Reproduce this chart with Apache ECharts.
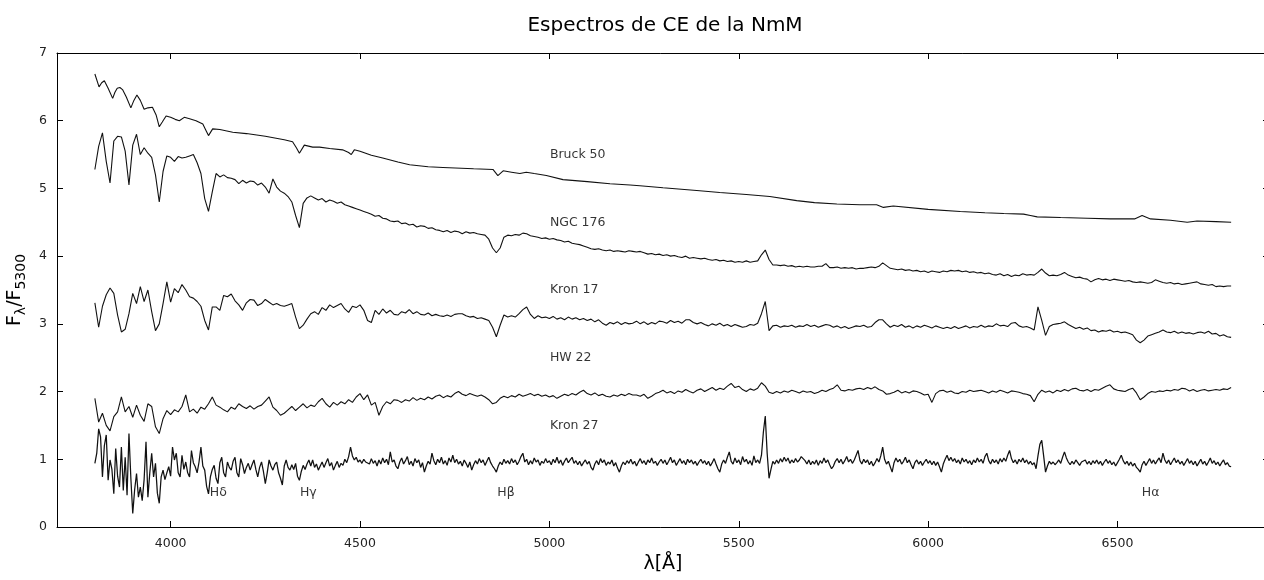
<!DOCTYPE html>
<html><head><meta charset="utf-8">
<script src="https://cdn.jsdelivr.net/npm/echarts@6/dist/echarts.min.js"></script>
<style>html,body{margin:0;padding:0;background:#fff;overflow:hidden}#c{width:1264px;height:580px}</style>
</head><body><div id="c"></div>
<script>
// ---------- DATA ----------
const chartTitle = 'Espectros de CE de la NmM';
const xAxisName = 'λ[Å]';
const xTicks = [4000, 4500, 5000, 5500, 6000, 6500];
const yTicks = [0, 1, 2, 3, 4, 5, 6, 7];
const seriesNames = ['Bruck 50', 'NGC 176', 'Kron 17', 'HW 22', 'Kron 27'];
const nameLabelX = 5000;
const nameLabelY = [5.5, 4.5, 3.5, 2.5, 1.5];
const lineNames = ['Hδ', 'Hγ', 'Hβ', 'Hα'];
const lineLambda = [4102, 4340, 4861, 6563];
const lineLabelY = 0.5;

// Bruck 50: [wavelength, flux] pairs (smooth spectrum)
const bruck50 = [
[3800,6.69],[3811,6.50],[3818,6.56],[3825,6.59],[3835,6.48],[3847,6.33],[3853,6.42],[3859,6.48],[3866,6.49],[3873,6.46],
[3883,6.35],[3895,6.19],[3903,6.30],[3911,6.38],[3920,6.30],[3930,6.17],[3940,6.19],[3952,6.20],[3962,6.08],[3970,5.91],
[3978,5.98],[3988,6.07],[4000,6.05],[4012,6.02],[4023,6.00],[4036,6.05],[4050,6.03],[4067,6.00],[4085,5.95],[4093,5.86],
[4100,5.78],[4111,5.88],[4130,5.87],[4164,5.83],[4200,5.81],[4250,5.77],[4300,5.72],[4322,5.69],[4332,5.60],[4340,5.52],
[4353,5.64],[4375,5.61],[4393,5.61],[4420,5.59],[4454,5.57],[4470,5.53],[4477,5.50],[4485,5.57],[4500,5.55],[4530,5.49],
[4560,5.45],[4600,5.39],[4631,5.35],[4680,5.32],[4719,5.31],[4800,5.29],[4851,5.28],[4864,5.19],[4878,5.26],[4900,5.24],
[4922,5.22],[4927,5.20],[4939,5.24],[4960,5.22],[4992,5.19],[5036,5.13],[5100,5.10],[5160,5.07],[5213,5.05],[5239,5.04],
[5300,5.01],[5389,4.97],[5450,4.94],[5520,4.91],[5582,4.88],[5653,4.82],[5700,4.79],[5759,4.77],[5820,4.76],[5864,4.76],
[5882,4.72],[5908,4.74],[6000,4.69],[6085,4.66],[6150,4.64],[6200,4.63],[6252,4.62],[6270,4.60],[6288,4.58],[6350,4.57],
[6420,4.56],[6481,4.55],[6545,4.55],[6565,4.60],[6587,4.55],[6640,4.53],[6684,4.50],[6710,4.52],[6760,4.51],[6800,4.50]
];

// Rows of 100 Å starting at 3800 Å, 10 Å sampling
const ngc176Rows = [
[5.28,5.62,5.82,5.40,5.08,5.70,5.77,5.76,5.55,5.05],
[5.64,5.80,5.50,5.60,5.52,5.46,5.20,4.80,5.25,5.48],
[5.46,5.40,5.47,5.45,5.46,5.48,5.50,5.38,5.22,4.85],
[4.66,4.95,5.22,5.17,5.20,5.16,5.15,5.13,5.07,5.12],
[5.08,5.11,5.10,5.05,5.08,5.02,4.93,5.14,5.02,4.96],
[4.93,4.88,4.80,4.60,4.42,4.78,4.86,4.89,4.86,4.83],
[4.85,4.80,4.83,4.81,4.78,4.80,4.76,4.74,4.72,4.70],
[4.68,4.66,4.64,4.62,4.59,4.60,4.56,4.55,4.52,4.51],
[4.52,4.48,4.49,4.46,4.47,4.43,4.45,4.44,4.41,4.42],
[4.39,4.38,4.36,4.38,4.35,4.37,4.36,4.33,4.36,4.34],
[4.35,4.33,4.32,4.31,4.25,4.12,4.05,4.12,4.28,4.31],
[4.30,4.32,4.31,4.34,4.33,4.30,4.29,4.28,4.26,4.27],
[4.25,4.26,4.24,4.23,4.21,4.22,4.19,4.18,4.17,4.15],
[4.13,4.11,4.10,4.11,4.09,4.08,4.09,4.07,4.08,4.07],
[4.06,4.08,4.07,4.06,4.07,4.05,4.03,4.04,4.02,4.03],
[4.01,4.02,4.00,4.01,3.99,3.98,4.00,3.97,3.98,3.97],
[3.96,3.97,3.95,3.94,3.95,3.93,3.94,3.92,3.93,3.91],
[3.92,3.91,3.93,3.91,3.92,3.93,4.02,4.09,3.95,3.87],
[3.87,3.86,3.87,3.85,3.86,3.84,3.85,3.84,3.85,3.84],
[3.84,3.85,3.85,3.89,3.83,3.83,3.84,3.82,3.83,3.82],
[3.83,3.81,3.82,3.82,3.83,3.84,3.83,3.85,3.90,3.86],
[3.82,3.81,3.80,3.81,3.79,3.80,3.78,3.79,3.77,3.78],
[3.76,3.78,3.77,3.76,3.78,3.77,3.79,3.78,3.79,3.77],
[3.78,3.76,3.77,3.75,3.76,3.74,3.75,3.73,3.72,3.74],
[3.71,3.73,3.70,3.72,3.71,3.74,3.72,3.73,3.72,3.76],
[3.81,3.75,3.71,3.72,3.71,3.73,3.76,3.72,3.70,3.68],
[3.69,3.67,3.66,3.62,3.65,3.67,3.65,3.66,3.64,3.66],
[3.65,3.64,3.63,3.64,3.62,3.61,3.62,3.61,3.60,3.61],
[3.65,3.63,3.61,3.60,3.61,3.59,3.60,3.58,3.59,3.60],
[3.61,3.62,3.59,3.58,3.57,3.58,3.55,3.56,3.55,3.56],
[3.56]
];

const kron17Rows = [
[3.31,2.95,3.26,3.43,3.53,3.45,3.13,2.88,2.92,3.15],
[3.45,3.30,3.55,3.33,3.50,3.18,2.90,3.00,3.30,3.62],
[3.32,3.52,3.46,3.58,3.50,3.40,3.38,3.33,3.26,3.05],
[2.91,3.25,3.25,3.20,3.42,3.40,3.44,3.34,3.28,3.20],
[3.31,3.36,3.35,3.27,3.30,3.36,3.32,3.28,3.30,3.27],
[3.26,3.28,3.30,3.10,2.93,2.98,3.07,3.15,3.18,3.14],
[3.24,3.20,3.28,3.24,3.27,3.30,3.22,3.17,3.26,3.24],
[3.28,3.20,3.05,3.02,3.20,3.14,3.22,3.16,3.20,3.14],
[3.13,3.18,3.16,3.21,3.15,3.18,3.14,3.13,3.16,3.12],
[3.14,3.12,3.11,3.13,3.11,3.14,3.15,3.15,3.12,3.10],
[3.11,3.08,3.09,3.07,3.05,2.95,2.81,2.98,3.13,3.10],
[3.12,3.10,3.15,3.21,3.25,3.14,3.08,3.12,3.09,3.10],
[3.08,3.11,3.07,3.09,3.06,3.10,3.07,3.09,3.06,3.08],
[3.05,3.07,3.03,3.06,3.01,2.98,3.02,3.00,3.03,2.99],
[3.02,3.00,3.01,3.04,3.00,3.03,2.99,3.02,3.00,3.04],
[3.03,3.01,3.05,3.02,3.04,3.01,3.06,3.06,3.02,3.00],
[3.02,2.99,2.97,3.00,2.98,3.01,2.97,2.99,2.96,2.99],
[2.97,2.95,2.96,2.99,2.98,3.01,3.15,3.33,2.90,2.97],
[2.98,2.95,2.97,2.96,2.98,2.95,2.97,2.96,2.99,2.96],
[2.98,2.95,2.97,2.99,2.98,2.95,2.97,2.94,2.96,2.93],
[2.95,2.97,2.96,2.98,2.95,2.96,3.02,3.06,3.06,3.00],
[2.95,2.98,2.96,2.99,2.95,2.97,2.94,2.97,2.95,2.98],
[2.96,2.94,2.97,2.95,2.93,2.95,2.93,2.96,2.93,2.95],
[2.97,2.94,2.96,2.95,2.98,2.95,2.97,2.96,3.00,2.97],
[2.98,2.96,3.01,3.02,2.97,2.95,2.96,2.94,2.91,3.25],
[3.05,2.83,2.96,2.99,3.00,3.01,3.03,2.99,2.96,2.93],
[2.95,2.92,2.94,2.90,2.91,2.88,2.90,2.89,2.91,2.88],
[2.89,2.87,2.88,2.86,2.84,2.76,2.72,2.76,2.82,2.84],
[2.86,2.88,2.91,2.88,2.87,2.89,2.86,2.88,2.86,2.87],
[2.85,2.87,2.88,2.86,2.89,2.85,2.86,2.82,2.84,2.81],
[2.80]
];

const hw22Rows = [
[1.90,1.55,1.68,1.50,1.42,1.63,1.70,1.92,1.70,1.78],
[1.62,1.80,1.65,1.56,1.82,1.78,1.48,1.38,1.60,1.72],
[1.66,1.73,1.70,1.78,1.95,1.70,1.74,1.68,1.77,1.74],
[1.82,1.92,1.80,1.77,1.73,1.70,1.77,1.74,1.82,1.78],
[1.75,1.79,1.74,1.78,1.80,1.86,1.92,1.77,1.72,1.65],
[1.68,1.73,1.78,1.72,1.77,1.82,1.76,1.80,1.78,1.85],
[1.90,1.82,1.77,1.84,1.80,1.85,1.82,1.88,1.84,1.92],
[1.97,1.88,1.95,1.80,1.84,1.65,1.78,1.85,1.82,1.88],
[1.87,1.84,1.88,1.86,1.91,1.87,1.90,1.88,1.92,1.89],
[1.93,1.95,1.91,1.94,1.92,1.97,2.00,1.96,1.94,1.97],
[1.95,1.93,1.95,1.92,1.88,1.82,1.84,1.90,1.93,1.91],
[1.94,1.92,1.96,1.93,1.95,1.97,1.94,1.96,1.93,1.95],
[1.92,1.94,1.90,1.93,1.96,1.94,1.97,1.95,1.99,2.02],
[1.97,1.95,1.98,1.94,1.96,1.93,1.92,1.95,1.93,1.96],
[1.94,1.97,1.95,1.95,1.93,1.96,1.90,1.93,1.97,1.99],
[2.02,1.98,2.00,1.97,2.01,1.99,2.03,2.00,1.98,2.02],
[2.04,2.00,2.03,2.06,2.02,2.05,2.03,2.08,2.12,2.06],
[2.08,2.03,2.00,2.04,2.02,2.05,2.13,2.08,1.99,1.97],
[2.00,1.98,2.01,1.99,2.02,2.00,1.98,2.01,1.99,2.00],
[1.97,1.99,2.02,2.00,2.03,2.05,2.10,2.02,2.01,2.03],
[2.02,2.04,2.05,2.03,2.06,2.04,2.07,2.03,2.01,1.96],
[1.97,1.99,2.02,1.98,2.00,1.98,2.01,2.00,1.98,1.95],
[1.96,1.84,1.97,2.01,2.02,1.99,2.01,1.98,1.97,2.00],
[1.99,2.02,2.00,2.01,2.02,2.00,1.98,2.01,1.99,2.02],
[2.00,1.98,2.01,2.00,1.99,1.97,1.96,1.94,1.85,1.96],
[2.02,1.99,2.01,1.98,2.02,2.00,2.03,2.01,2.04,2.05],
[2.02,2.01,2.03,2.00,2.03,2.02,2.05,2.08,2.10,2.04],
[2.02,2.01,2.00,2.03,2.05,1.98,1.88,1.92,1.97,2.00],
[1.99,2.01,2.00,2.02,2.01,2.03,2.02,2.05,2.04,2.01],
[2.03,2.00,2.02,2.03,2.01,2.02,2.03,2.02,2.04,2.03],
[2.06]
];

// Rows of 100 Å starting at 3800 Å, 5 Å sampling
const kron27Rows = [
[0.94,1.09,1.45,1.33,0.74,1.20,1.36,0.69,0.99,0.85,0.49,1.16,0.75,0.59,1.18,0.54,1.03,0.47,1.38,0.72],
[0.20,0.55,0.79,0.44,0.59,0.39,0.70,1.26,0.44,0.80,1.09,0.74,0.94,0.50,0.35,0.74,0.84,0.70,0.80,0.89],
[0.75,1.18,0.99,1.09,0.80,0.74,1.06,0.85,0.96,0.80,0.74,1.13,0.95,0.89,0.80,0.96,1.18,0.90,0.84,0.60],
[0.49,0.74,0.85,0.91,0.72,0.64,0.95,1.03,0.80,0.74,0.96,0.88,0.84,0.97,1.03,0.80,0.74,1.01,0.92,0.79],
[0.88,0.94,0.84,0.92,0.99,0.85,0.74,0.88,0.96,0.82,0.64,0.80,0.99,0.90,0.84,0.92,0.96,0.80,0.72,0.62],
[0.90,0.99,0.88,0.84,0.92,0.85,0.94,0.75,0.69,0.82,0.91,0.85,0.93,0.99,0.90,0.99,0.88,0.93,0.84,0.90],
[0.96,0.88,0.95,1.01,0.90,0.95,0.84,0.91,0.97,0.88,0.94,0.91,1.00,0.95,1.04,1.18,1.05,0.99,1.03,0.96],
[0.99,0.94,1.00,0.96,0.98,0.93,1.01,0.94,0.98,0.90,0.99,0.93,1.02,0.95,1.00,0.92,1.11,0.96,0.99,0.90],
[0.86,0.96,1.02,0.93,0.98,1.04,0.92,0.97,0.90,1.01,0.95,0.99,0.88,0.95,0.81,0.90,0.97,0.93,1.09,0.98],
[0.92,1.00,0.95,1.03,0.93,0.98,0.91,1.02,0.96,1.06,0.95,1.00,0.93,0.97,0.90,0.99,0.94,0.88,0.96,0.84],
[0.92,0.98,0.93,1.01,0.95,0.99,0.91,0.97,1.03,0.95,0.90,0.86,0.81,0.90,0.96,0.92,1.00,0.94,0.98,0.93],
[1.01,0.95,0.99,0.92,0.97,1.04,1.09,0.96,1.00,0.92,0.98,0.93,1.02,0.96,0.99,0.91,0.97,0.94,1.01,0.95],
[0.98,0.92,1.00,0.95,1.03,0.94,0.99,0.91,0.97,1.02,0.95,0.99,1.03,0.94,0.98,0.92,0.97,0.90,0.95,0.99],
[0.93,0.97,0.88,0.84,0.93,0.98,0.92,1.01,0.95,0.99,0.91,0.96,0.93,0.99,0.90,0.95,0.87,0.81,0.90,0.96],
[0.92,0.98,0.94,1.00,0.93,0.97,0.90,0.96,1.01,0.94,0.98,0.92,0.99,0.95,1.02,0.94,0.97,0.91,0.96,1.00],
[0.94,0.99,0.92,0.97,1.03,0.95,0.99,0.91,0.96,1.01,0.94,0.98,0.92,1.00,0.95,0.99,0.93,0.97,0.91,0.96],
[1.00,0.94,0.98,0.92,0.97,0.90,0.95,1.01,0.93,0.86,0.81,0.93,0.99,0.94,1.03,1.11,0.97,0.93,1.02,0.95],
[0.99,0.92,1.04,0.96,1.00,0.93,0.98,0.91,1.05,0.95,0.99,0.94,1.06,1.40,1.64,1.09,0.72,0.85,0.97,0.93],
[0.99,0.94,1.01,0.96,1.03,0.97,1.02,0.94,0.99,0.95,1.01,0.96,0.99,1.04,1.06,0.98,0.93,0.99,0.92,0.97],
[0.93,0.99,0.91,0.98,0.94,1.02,0.95,0.99,0.92,0.86,0.90,0.97,1.01,0.95,1.00,0.93,0.98,1.04,0.96,1.00],
[0.94,0.99,1.06,1.13,0.98,0.93,1.00,0.95,0.99,0.92,0.97,0.90,0.95,1.01,0.96,1.05,1.18,1.00,0.93,0.97],
[0.89,0.81,0.95,1.02,0.96,1.00,0.93,0.97,1.03,0.95,0.99,0.92,0.86,0.95,0.99,0.93,0.97,0.91,0.96,1.00],
[0.94,0.98,0.92,0.97,0.91,0.96,0.89,0.81,0.93,1.00,1.06,0.98,1.03,0.97,1.01,0.95,0.99,0.93,1.02,0.96],
[1.00,0.94,0.98,0.92,0.99,0.95,1.02,0.96,1.00,0.94,1.04,1.09,0.98,0.93,1.00,0.95,0.99,0.93,1.01,0.96],
[1.02,0.97,1.06,1.13,1.01,0.95,0.99,0.93,1.00,0.96,1.02,0.95,0.99,0.93,0.97,0.92,0.95,0.86,1.05,1.22],
[1.28,1.05,0.81,0.90,0.97,0.93,0.96,0.92,0.95,0.99,0.94,1.03,1.11,1.02,0.96,0.92,0.97,0.93,0.99,0.95],
[0.91,0.96,0.94,0.99,0.93,0.97,0.92,0.98,0.94,0.99,0.93,0.97,0.91,0.96,1.00,0.94,0.98,0.92,0.96,0.90],
[0.95,1.00,1.06,0.98,0.93,0.97,0.91,0.96,0.90,0.94,0.88,0.85,0.81,0.92,0.97,0.91,0.96,1.01,0.94,0.99],
[0.93,0.98,1.02,0.95,1.09,0.99,0.94,0.99,0.92,0.97,1.02,0.95,0.99,0.93,0.97,0.91,0.96,1.01,0.94,0.98],
[0.92,0.97,0.90,0.95,1.00,0.93,0.97,0.91,0.96,1.02,0.94,0.98,0.92,0.96,0.90,0.95,0.99,0.92,0.95,0.90],
[0.89]
];

// ---------- BUILD ----------
function fromRows(rows, start, rowSpan, step) {
  const out = [];
  rows.forEach((row, i) => row.forEach((v, j) => out.push([start + i * rowSpan + j * step, v])));
  return out;
}
const seriesData = [
  bruck50,
  fromRows(ngc176Rows, 3800, 100, 10),
  fromRows(kron17Rows, 3800, 100, 10),
  fromRows(hw22Rows, 3800, 100, 10),
  fromRows(kron27Rows, 3800, 100, 5)
];
const lineWidths = [1.1, 1.1, 1.1, 1.1, 1.25];

const FONT = 'DejaVu Sans';
const chart = echarts.init(document.getElementById('c'), null, {renderer: 'canvas', width: 1264, height: 580});

const spectraSeries = seriesNames.map((n, i) => ({
  name: n, type: 'line', data: seriesData[i], showSymbol: false, symbol: 'none',
  lineStyle: {color: '#111', width: lineWidths[i]}, silent: true, z: 3
}));

const plainNum = v => String(v);

const option = {
  animation: false,
  backgroundColor: '#fff',
  title: {
    text: chartTitle, left: 660, top: 11, textAlign: 'center',
    textStyle: {fontFamily: FONT, fontSize: 20, fontWeight: 'normal', color: '#000'}
  },
  grid: {left: 57, top: 53, width: 1212, height: 474, outerBoundsMode: 'none'},
  xAxis: [
    {
      type: 'value', min: 3700, max: 6900, interval: 100, position: 'bottom',
      axisLine: {onZero: false, lineStyle: {color: '#000', width: 1}},
      axisTick: {inside: true, length: 6, customValues: xTicks, lineStyle: {color: '#000'}},
      axisLabel: {customValues: xTicks, formatter: plainNum, fontFamily: FONT, fontSize: 12.5, color: '#222', margin: 10},
      splitLine: {show: false},
      name: xAxisName, nameLocation: 'middle', nameGap: 28,
      nameTextStyle: {fontFamily: FONT, fontSize: 19, color: '#000'}
    },
    {
      type: 'value', min: 3700, max: 6900, interval: 100, position: 'top',
      axisLine: {onZero: false, lineStyle: {color: '#000', width: 1}},
      axisTick: {inside: true, length: 6, customValues: xTicks, lineStyle: {color: '#000'}},
      axisLabel: {show: false},
      splitLine: {show: false}
    }
  ],
  yAxis: [
    {
      type: 'value', min: 0, max: 7, interval: 1, position: 'left',
      axisLine: {show: true, onZero: false, lineStyle: {color: '#000', width: 1}},
      axisTick: {show: true, inside: true, length: 6, lineStyle: {color: '#000'}},
      axisLabel: {formatter: plainNum, fontFamily: FONT, fontSize: 12.5, color: '#222', margin: 10},
      splitLine: {show: false},
      name: '{a|F}{b|λ}{a|/F}{b|5300}', nameLocation: 'middle', nameGap: 20, nameRotate: 90,
      nameTextStyle: {
        rich: {
          a: {fontFamily: FONT, fontSize: 19, color: '#000', lineHeight: 27, verticalAlign: 'middle'},
          b: {fontFamily: FONT, fontSize: 14, color: '#000', lineHeight: 27, verticalAlign: 'bottom'}
        }
      }
    },
    {
      type: 'value', min: 0, max: 7, interval: 1, position: 'right',
      axisLine: {show: false, onZero: false},
      axisTick: {show: true, inside: true, length: 6, lineStyle: {color: '#000'}},
      axisLabel: {show: false},
      splitLine: {show: false}
    }
  ],
  series: spectraSeries.concat([
    {
      type: 'scatter', symbolSize: 1, itemStyle: {color: 'rgba(0,0,0,0)'}, silent: true, z: 5,
      data: seriesNames.map((n, i) => ({name: n, value: [nameLabelX, nameLabelY[i]]})),
      label: {show: true, position: 'right', distance: 0, formatter: '{b}',
              fontFamily: FONT, fontSize: 12.5, color: '#000'}
    },
    {
      type: 'scatter', symbolSize: 1, itemStyle: {color: 'rgba(0,0,0,0)'}, silent: true, z: 5,
      data: lineNames.map((n, i) => ({name: n, value: [lineLambda[i], lineLabelY]})),
      label: {show: true, position: 'right', distance: 0, formatter: '{b}',
              fontFamily: FONT, fontSize: 12.5, color: '#000'}
    }
  ])
};
chart.setOption(option);
</script>
</body></html>
